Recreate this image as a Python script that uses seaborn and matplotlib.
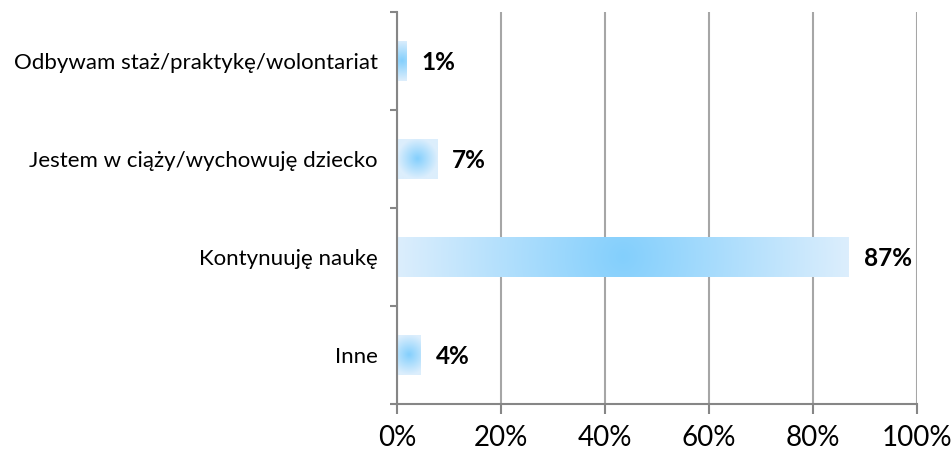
import numpy as np
import pandas as pd
import matplotlib
matplotlib.use("Agg")
import matplotlib.pyplot as plt
import seaborn as sns

# ── data ───────────────────────────────────────────────────────
categories = [
    "Odbywam staż/praktykę/wolontariat",
    "Jestem w ciąży/wychowuję dziecko",
    "Kontynuuję naukę",
    "Inne",
]
shares = [1.8, 7.7, 86.8, 4.6]          # bar lengths in %
value_labels = ["1%", "7%", "87%", "4%"]  # printed labels
x_ticks = [0, 20, 40, 60, 80, 100]
x_tick_labels = ["0%", "20%", "40%", "60%", "80%", "100%"]

df = pd.DataFrame({"category": categories, "share": shares})

sns.set_style("white")
plt.rcParams["font.family"] = ["Lato", "DejaVu Sans"]

GRAY_AXIS = "#868686"
GRAY_GRID = "#a6a6a6"

fig = plt.figure(figsize=(9.53, 4.53), dpi=100)
ax = fig.add_axes([397 / 953, 1 - 404 / 453, 520 / 953, 392 / 453])

sns.barplot(data=df, x="share", y="category", orient="h", width=0.41,
            color="#dceefc", saturation=1, ax=ax)

ax.set_xlim(0, 100)
ax.set_ylim(3.5, -0.5)

# ── radial gradient fill for each bar ──────────────────────────
center = np.array([131, 207, 253]) / 255
edge = np.array([220, 238, 252]) / 255
for patch in list(ax.patches):
    x0, y0 = patch.get_x(), patch.get_y()
    w, h = patch.get_width(), patch.get_height()
    (px0, py0), (px1, py1) = ax.transData.transform([(x0, y0), (x0 + w, y0 + h)])
    nx = max(int(abs(px1 - px0)), 2)
    ny = max(int(abs(py1 - py0)), 2)
    X, Y = np.meshgrid(np.linspace(-nx / 2, nx / 2, nx),
                       np.linspace(-ny / 2, ny / 2, ny))
    t = np.clip(np.hypot(X, Y) / (max(nx, ny) / 2), 0, 1)[..., None]
    img = center * (1 - t) + edge * t
    patch.set_edgecolor("none")
    im = ax.imshow(img, extent=(x0, x0 + w, y0 + h, y0), aspect="auto",
                   interpolation="bilinear", zorder=patch.get_zorder() + 0.1)
    im.set_clip_path(patch)

ax.set_xlim(0, 100)
ax.set_ylim(3.5, -0.5)

# ── value labels ───────────────────────────────────────────────
for i, (v, lab) in enumerate(zip(shares, value_labels)):
    ax.annotate(lab, xy=(v, i), xytext=(11, -1), textcoords="offset points",
                va="center", ha="left", fontsize=17.5, fontweight="bold",
                color="black")

# ── axes styling ───────────────────────────────────────────────
ax.set_xticks(x_ticks, x_tick_labels)
ax.set_yticks([-0.5, 0.5, 1.5, 2.5, 3.5], [""] * 5)
ax.set_yticks(range(len(categories)), categories, minor=True)
ax.tick_params(axis="x", length=7, width=1.5, color=GRAY_AXIS,
               labelsize=20, labelcolor="black", pad=8, direction="out",
               bottom=True)
ax.tick_params(axis="y", which="major", length=5, width=1.5,
               color=GRAY_AXIS, direction="out", left=True)
ax.tick_params(axis="y", which="minor", length=0, pad=14, labelsize=16,
               labelcolor="black")
ax.set_xlabel("")
ax.set_ylabel("")

ax.xaxis.grid(True, color=GRAY_GRID, lw=1.5)
ax.yaxis.grid(False)
ax.set_axisbelow(True)
for side in ["top", "right"]:
    ax.spines[side].set_visible(False)
for side in ["left", "bottom"]:
    ax.spines[side].set_color(GRAY_AXIS)
    ax.spines[side].set_linewidth(1.5)

fig.savefig("out.png", dpi=100)
